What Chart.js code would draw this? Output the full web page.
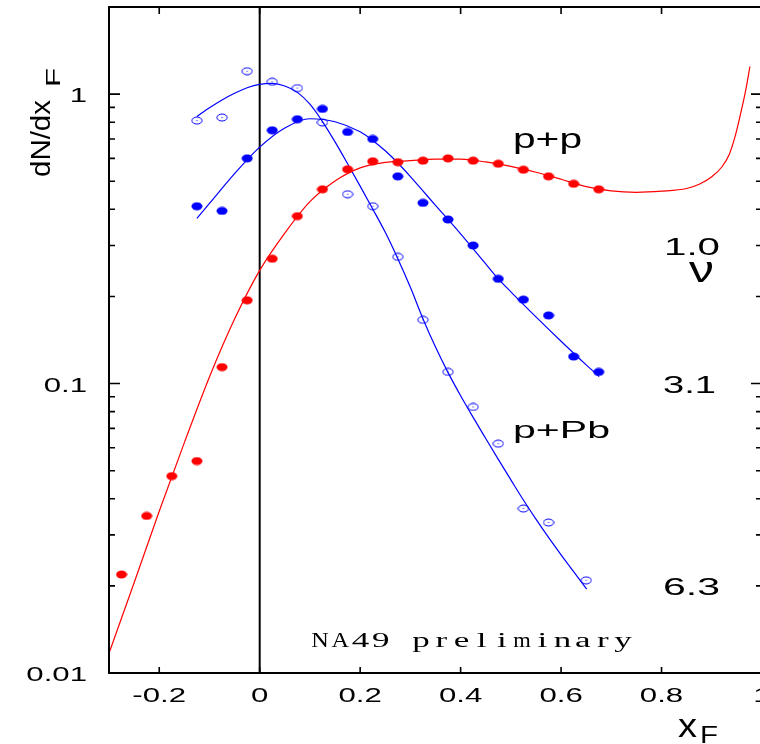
<!DOCTYPE html>
<html>
<head>
<meta charset="utf-8">
<script src="https://cdn.jsdelivr.net/npm/chart.js@4.4.1/dist/chart.umd.min.js"></script>
<style>
  html, body { margin: 0; padding: 0; background: #fff; overflow: hidden; }
  #wrap { position: relative; width: 770px; height: 744px; }
</style>
</head>
<body>
<div id="wrap"><canvas id="c" width="770" height="744"></canvas></div>
<script>
// ---- measured points: x_F bin centres and dN/dx_F ----
const ppX = [-0.275, -0.225, -0.175, -0.125, -0.075, -0.025, 0.025, 0.075, 0.125, 0.175,
             0.225, 0.275, 0.325, 0.375, 0.425, 0.475, 0.525, 0.575, 0.625, 0.675];
const ppY = [0.0219, 0.0349, 0.0479, 0.054, 0.114, 0.194, 0.270, 0.379, 0.469, 0.550,
             0.586, 0.582, 0.589, 0.600, 0.589, 0.575, 0.548, 0.520, 0.490, 0.469];

const pPbPeriphX = [-0.125, -0.075, -0.025, 0.025, 0.075, 0.125, 0.175, 0.225, 0.275,
                    0.325, 0.375, 0.425, 0.475, 0.525, 0.575, 0.625, 0.675];
const pPbPeriphY = [0.410, 0.395, 0.600, 0.750, 0.819, 0.889, 0.740, 0.700, 0.520,
                    0.421, 0.369, 0.300, 0.230, 0.195, 0.172, 0.124, 0.1097];

const pPbCentralX = [-0.125, -0.075, -0.025, 0.025, 0.075, 0.125, 0.175, 0.225, 0.275,
                     0.325, 0.375, 0.425, 0.475, 0.525, 0.575, 0.65];
const pPbCentralY = [0.810, 0.830, 1.200, 1.103, 1.049, 0.798, 0.451, 0.410, 0.274,
                     0.166, 0.1097, 0.083, 0.062, 0.037, 0.0331, 0.0209];

// ---- fitted curves ----
const ppFitX = [-0.3, -0.25, -0.2, -0.15, -0.1, -0.05, 0, 0.05, 0.1, 0.15, 0.2, 0.25, 0.3,
                0.35, 0.4, 0.45, 0.5, 0.55, 0.6, 0.65, 0.7, 0.75, 0.8, 0.85, 0.875, 0.9,
                0.92, 0.935, 0.947, 0.957, 0.967, 0.976];
const ppFitY = [0.0117, 0.0205, 0.0362, 0.0625, 0.1054, 0.167, 0.246, 0.331, 0.425, 0.501,
                0.556, 0.581, 0.589, 0.596, 0.596, 0.583, 0.563, 0.537, 0.508, 0.479, 0.463,
                0.458, 0.462, 0.472, 0.488, 0.518, 0.560, 0.620, 0.720, 0.850, 1.020, 1.246];

const pPbPeriphFitX = [-0.125, -0.1, -0.05, 0, 0.05, 0.1, 0.15, 0.2, 0.225, 0.25, 0.275, 0.3,
                       0.325, 0.35, 0.375, 0.4, 0.425, 0.45, 0.475, 0.5, 0.55, 0.6, 0.65, 0.676];
const pPbPeriphFitY = [0.372, 0.419, 0.531, 0.656, 0.764, 0.822, 0.803, 0.741, 0.692, 0.637,
                       0.578, 0.519, 0.463, 0.413, 0.369, 0.329, 0.292, 0.259, 0.230, 0.2075,
                       0.170, 0.140, 0.116, 0.1057];

const pPbCentralFitX = [-0.125, -0.1, -0.075, -0.05, -0.025, 0, 0.025, 0.05, 0.075, 0.1, 0.125,
                        0.15, 0.175, 0.2, 0.225, 0.25, 0.275, 0.3, 0.325, 0.35, 0.375, 0.4,
                        0.425, 0.45, 0.475, 0.5, 0.525, 0.55, 0.575, 0.6, 0.625, 0.651];
const pPbCentralFitY = [0.837, 0.897, 0.955, 1.007, 1.052, 1.081, 1.089, 1.067, 1.014, 0.923,
                        0.804, 0.684, 0.575, 0.481, 0.401, 0.333, 0.270, 0.215, 0.1675, 0.1337,
                        0.1091, 0.0908, 0.0764, 0.0646, 0.0547, 0.0465, 0.0396, 0.0340, 0.0294,
                        0.0256, 0.0224, 0.0195];

// ---- axes ----
const xTickValues = [-0.2, 0, 0.2, 0.4, 0.6, 0.8, 1.0];
const xTickLabels = ["-0.2", "0", "0.2", "0.4", "0.6", "0.8", "1"];
const yTickValues = [0.01, 0.1, 1];
const yTickLabels = ["0.01", "0.1", "1"];
const nuLabels = ["1.0", "3.1", "6.3"];

const RED = "#ff0000";
const BLUE = "#0000ff";
const SANS = "'Liberation Sans', Arial, Helvetica, sans-serif";
const SERIF = "'Liberation Serif', 'DejaVu Serif', serif";

function pts(xs, ys) { return xs.map((x, i) => ({ x: x, y: ys[i] })); }

// elliptical markers
function marker(color, filled) {
  const c = document.createElement("canvas");
  c.width = 12; c.height = 9;
  const g = c.getContext("2d");
  g.beginPath();
  if (filled) {
    g.ellipse(6, 4.5, 5.5, 4.0, 0, 0, Math.PI * 2);
    g.fillStyle = color; g.fill();
  } else {
    g.ellipse(6, 4.5, 5.1, 3.5, 0, 0, Math.PI * 2);
    g.strokeStyle = color; g.lineWidth = 1; g.stroke();
    g.fillStyle = color; g.fillRect(5.5, 4, 1, 1);
  }
  return c;
}

// text drawn with a horizontal stretch so that it spans `width` px
function wideText(ctx, str, x, y, font, width, align) {
  ctx.save();
  ctx.font = font;
  ctx.textAlign = "left";
  ctx.textBaseline = "alphabetic";
  const w = ctx.measureText(str).width;
  const sx = width / w;
  let left = x;
  if (align === "center") left = x - width / 2;
  else if (align === "right") left = x - width;
  ctx.translate(left, y);
  ctx.scale(sx, 1);
  ctx.fillText(str, 0, 0);
  ctx.restore();
}

// vertical text reading upwards; `length` along the text, `thick` scales glyph height
function upText(ctx, str, baseX, startY, font, length, thick) {
  ctx.save();
  ctx.font = font;
  ctx.textAlign = "left";
  ctx.textBaseline = "alphabetic";
  const w = ctx.measureText(str).width;
  ctx.translate(baseX, startY);
  ctx.rotate(-Math.PI / 2);
  ctx.scale(length / w, thick);
  ctx.fillText(str, 0, 0);
  ctx.restore();
}

// fixed-pitch text, one glyph per cell
function pitchText(ctx, str, left, y, font, cell, sx, maxW) {
  ctx.save();
  ctx.font = font;
  ctx.textAlign = "center";
  ctx.textBaseline = "alphabetic";
  for (let i = 0; i < str.length; i++) {
    const ch = str[i];
    if (ch === " ") continue;
    const w = ctx.measureText(ch).width;
    const s = Math.min(sx, maxW / w);
    ctx.save();
    ctx.translate(left + cell * (i + 0.5), y);
    ctx.scale(s, 1);
    ctx.fillText(ch, 0, 0);
    ctx.restore();
  }
  ctx.restore();
}

const framePlugin = {
  id: "frame",
  beforeDatasetsDraw(chart) {
    const { ctx, chartArea: a, scales: { x } } = chart;
    const x0 = x.getPixelForValue(0);
    ctx.save();
    ctx.strokeStyle = "#000";
    ctx.lineWidth = 2;
    ctx.beginPath();
    ctx.moveTo(x0, a.top);
    ctx.lineTo(x0, a.bottom);
    ctx.stroke();
    ctx.restore();
  },
  afterDraw(chart) {
    const { ctx, chartArea: a, scales: { x, y } } = chart;
    ctx.save();
    ctx.strokeStyle = "#000";

    // frame
    ctx.lineWidth = 2;
    ctx.strokeRect(a.left, a.top, a.right - a.left, a.bottom - a.top);

    // inward ticks
    ctx.lineWidth = 1.6;
    ctx.beginPath();
    xTickValues.forEach(v => {
      const px = x.getPixelForValue(v);
      ctx.moveTo(px, a.top); ctx.lineTo(px, a.top + 7);
      ctx.moveTo(px, a.bottom); ctx.lineTo(px, a.bottom - 6);
    });
    yTickValues.forEach(d => {
      for (let k = 1; k <= 9; k++) {
        const v = d * k;
        if (v > y.max + 1e-9) break;
        const py = y.getPixelForValue(v);
        const len = k === 1 ? 11 : 6;
        ctx.moveTo(a.left, py); ctx.lineTo(a.left + len, py);
        ctx.moveTo(a.right, py); ctx.lineTo(a.right - len, py);
      }
    });
    ctx.stroke();
    ctx.restore();
  }
};

// tick labels and annotations
const labelPlugin = {
  id: "labels",
  afterDraw(chart) {
    const { ctx, scales: { x, y } } = chart;
    ctx.save();
    ctx.fillStyle = "#000";
    const tickFont = "19.5px " + SANS;
    const stretch = 1.6;

    xTickLabels.forEach((t, i) => {
      ctx.font = tickFont;
      const px = x.getPixelForValue(xTickValues[i]);
      const w = ctx.measureText(t).width * stretch;
      wideText(ctx, t, px, 702, tickFont, w, "center");
    });
    yTickLabels.forEach((t, i) => {
      ctx.font = tickFont;
      const py = y.getPixelForValue(yTickValues[i]);
      const w = ctx.measureText(t).width * stretch;
      wideText(ctx, t, 87, py + 8, tickFont, w, "right");
    });

    // axis titles
    wideText(ctx, "x", 678, 737, "33px " + SANS, 19, "left");
    wideText(ctx, "F", 700, 743, "23px " + SANS, 18, "left");
    upText(ctx, "dN/dx", 50, 177, "22px " + SANS, 77, 1.25);
    upText(ctx, "F", 60, 87, "16px " + SANS, 19, 1.25);

    // series labels
    wideText(ctx, "p+p", 513, 148, "27px " + SANS, 69, "left");
    wideText(ctx, "p+Pb", 513, 438, "24px " + SANS, 97, "left");

    // number of collisions per curve
    wideText(ctx, nuLabels[0], 664, 255, "24px " + SANS, 56, "left");
    wideText(ctx, "\u03bd", 689, 282, "36px " + SANS, 25, "left");
    wideText(ctx, nuLabels[1], 663, 393, "24px " + SANS, 53, "left");
    wideText(ctx, nuLabels[2], 663, 595, "24px " + SANS, 57, "left");

    pitchText(ctx, "NA49 preliminary", 310, 647, "20px " + SERIF, 20.2, 1.75, 17.5);
    ctx.restore();
  }
};

const lineStyle = (color) => ({
  type: "line",
  borderColor: color,
  borderWidth: 1.2,
  pointRadius: 0,
  fill: false,
  cubicInterpolationMode: "monotone",
  order: 2
});

const pointStyleDs = (img) => ({
  type: "scatter",
  showLine: false,
  pointStyle: img,
  pointRadius: 5,
  order: 1
});

new Chart(document.getElementById("c"), {
  data: {
    datasets: [
      Object.assign({ label: "p+p fit", data: pts(ppFitX, ppFitY) }, lineStyle(RED)),
      Object.assign({ label: "p+Pb fit (3.1)", data: pts(pPbPeriphFitX, pPbPeriphFitY) }, lineStyle(BLUE)),
      Object.assign({ label: "p+Pb fit (6.3)", data: pts(pPbCentralFitX, pPbCentralFitY) }, lineStyle(BLUE)),
      Object.assign({ label: "p+p", data: pts(ppX, ppY) }, pointStyleDs(marker(RED, true))),
      Object.assign({ label: "p+Pb 3.1", data: pts(pPbPeriphX, pPbPeriphY) }, pointStyleDs(marker(BLUE, true))),
      Object.assign({ label: "p+Pb 6.3", data: pts(pPbCentralX, pPbCentralY) }, pointStyleDs(marker(BLUE, false)))
    ]
  },
  options: {
    responsive: false,
    animation: false,
    devicePixelRatio: 1,
    layout: { padding: { left: 109, right: 8, top: 7, bottom: 71 } },
    plugins: { legend: { display: false }, tooltip: { enabled: false } },
    scales: {
      x: { type: "linear", min: -0.3, max: 1.0, display: false },
      y: { type: "logarithmic", min: 0.01, max: 2, display: false }
    }
  },
  plugins: [framePlugin, labelPlugin]
});
</script>
</body>
</html>
